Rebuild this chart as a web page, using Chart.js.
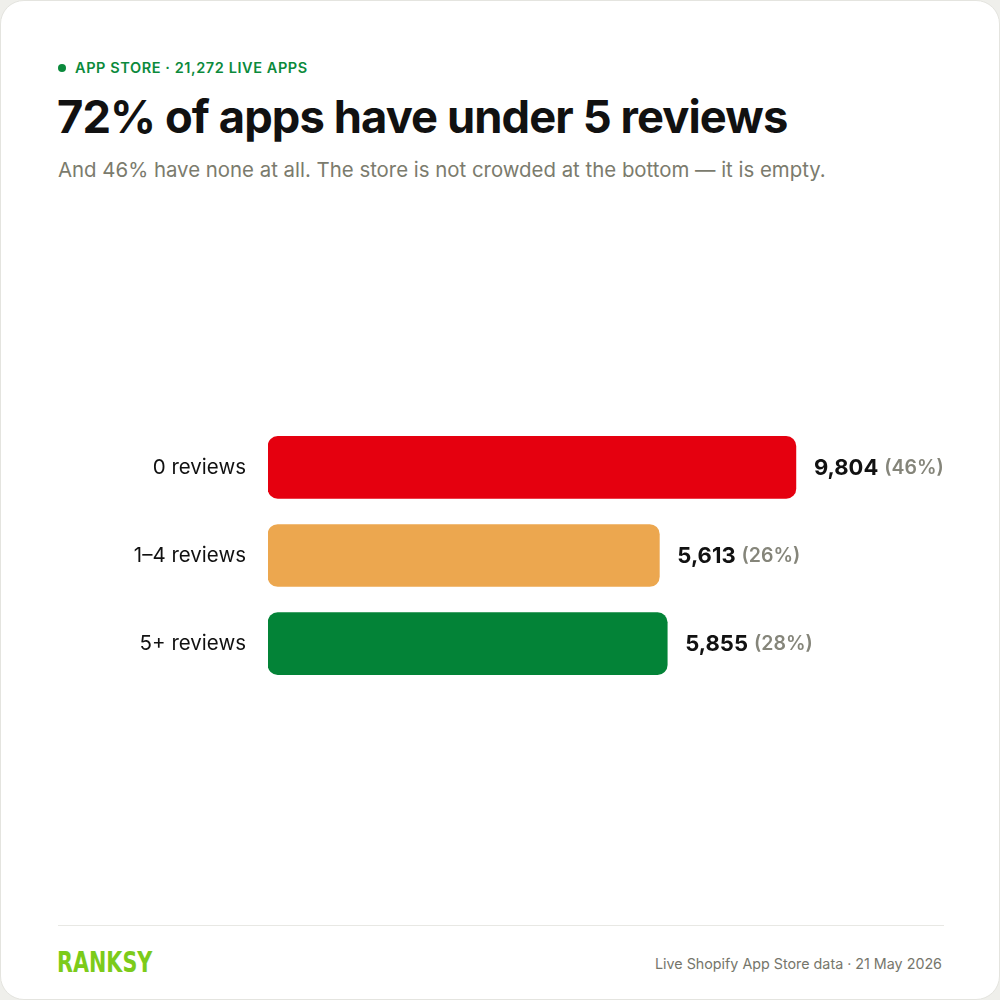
<!DOCTYPE html>
<html>
<head>
<meta charset="utf-8">
<script src="https://cdn.jsdelivr.net/npm/chart.js@4.4.1/dist/chart.umd.min.js"></script>
<style>
  html, body { margin: 0; padding: 0; background: #efefeb; }
  body { width: 1000px; height: 1000px; position: relative; font-family: Inter, "Noto Sans", sans-serif; }
  .card {
    position: absolute; left: 0; top: 0; width: 998px; height: 998px;
    background: #fff; border: 1px solid #e4e4df; border-radius: 24px; overflow: hidden;
  }
  .eyebrow {
    position: absolute; left: 57px; top: 57px; color: #0b8a3c;
    font-size: 14.5px; font-weight: 600; letter-spacing: 0.04em; line-height: 20px;
  }
  .eyebrow .dot {
    display: inline-block; width: 8px; height: 8px; border-radius: 50%;
    background: #0b8a3c; margin-right: 9px; vertical-align: 1px;
  }
  h1 {
    position: absolute; left: 56px; top: 88px; margin: 0; color: #111;
    font-size: 45.3px; font-weight: 700; letter-spacing: -0.02em; line-height: 56px;
  }
  .sub {
    position: absolute; left: 57px; top: 155px; margin: 0; color: #7b7b6d;
    font-size: 20.4px; font-weight: 400; line-height: 28px;
  }
  .chart { position: absolute; left: 57px; top: 396px; width: 886px; height: 317px; }
  .rule { position: absolute; left: 57px; top: 924px; width: 886px; height: 1px; background: #e8e8e4; }
  .brand {
    position: absolute; left: 56px; top: 946px; color: #7ccb1a;
    font-family: "DejaVu Sans", sans-serif; font-weight: 700; font-size: 28px; line-height: 32px;
    transform: scaleX(0.74); transform-origin: left center;
  }
  .source {
    position: absolute; right: 57px; top: 952px; color: #76766b;
    font-size: 14.3px; line-height: 22px;
  }
</style>
</head>
<body>
<div class="card">
  <div class="eyebrow"><span class="dot"></span>APP STORE · 21,272 LIVE APPS</div>
  <h1>72% of apps have under 5 reviews</h1>
  <p class="sub">And 46% have none at all. The store is not crowded at the bottom — it is empty.</p>
  <div class="chart"><canvas id="reviewsChart"></canvas></div>
  <div class="rule"></div>
  <div class="brand">RANKSY</div>
  <div class="source">Live Shopify App Store data · 21 May 2026</div>
</div>
<script>
const categories = ['0 reviews', '1–4 reviews', '5+ reviews'];
const appCounts = [9804, 5613, 5855];
const shares = [46, 26, 28];
const barColors = ['#e5000f', '#eca74f', '#038337'];

// axis starts below zero so the bar lengths line up with the original
const axisMin = -6400;
const axisMax = 14350;

const valueLabels = {
    id: 'valueLabels',
    afterDatasetsDraw(chart) {
        const ctx = chart.ctx;
        const meta = chart.getDatasetMeta(0);
        ctx.save();
        ctx.textBaseline = 'middle';
        ctx.textAlign = 'left';
        meta.data.forEach((bar, i) => {
            const x = bar.x + 18;
            const y = bar.y + 1;
            const count = appCounts[i].toLocaleString('en-US');
            ctx.font = '700 22px Inter, "Noto Sans", sans-serif';
            ctx.fillStyle = '#111';
            ctx.fillText(count, x, y);
            const w = ctx.measureText(count).width;
            ctx.font = '600 19.5px Inter, "Noto Sans", sans-serif';
            ctx.fillStyle = '#85857a';
            ctx.fillText('(' + shares[i] + '%)', x + w + 6, y);
        });
        ctx.restore();
    }
};

document.addEventListener('DOMContentLoaded', function() {
    new Chart(document.getElementById('reviewsChart').getContext('2d'), {
        type: 'bar',
        data: {
            labels: categories,
            datasets: [{
                data: appCounts,
                base: axisMin,
                backgroundColor: barColors,
                borderRadius: 10,
                borderSkipped: false,
                barThickness: 62
            }]
        },
        options: {
            indexAxis: 'y',
            responsive: true,
            maintainAspectRatio: false,
            animation: false,
            layout: { padding: 0 },
            plugins: { legend: { display: false }, tooltip: { enabled: false } },
            scales: {
                x: { display: false, min: axisMin, max: axisMax },
                y: {
                    grid: { display: false },
                    border: { display: false },
                    ticks: {
                        padding: 14,
                        color: '#111',
                        font: { family: 'Inter, "Noto Sans", sans-serif', size: 20.5, weight: 400 }
                    },
                    afterFit: scale => { scale.width = 210; }
                }
            }
        },
        plugins: [valueLabels]
    });
});
</script>
</body>
</html>
